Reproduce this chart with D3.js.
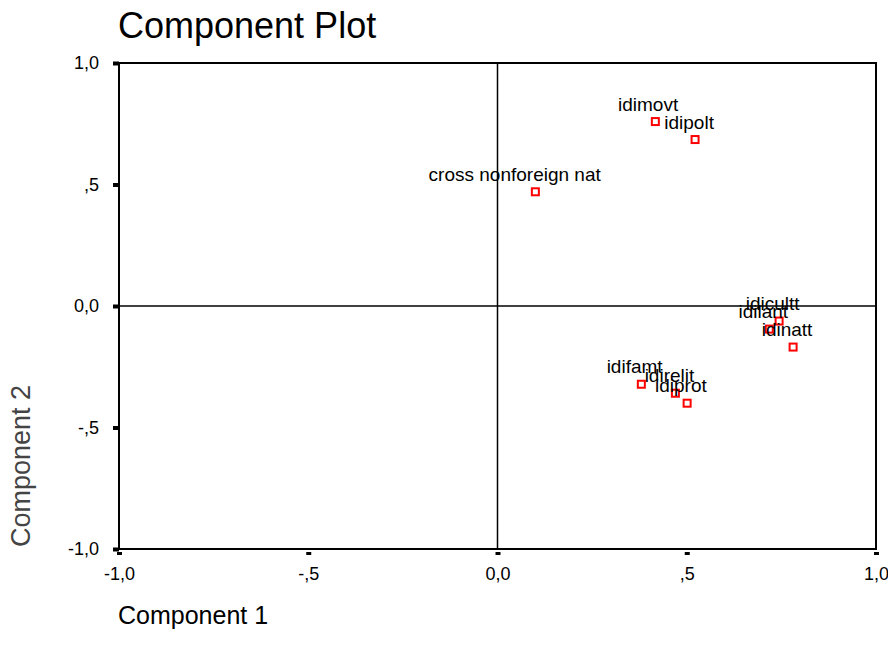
<!DOCTYPE html>
<html>
<head>
<meta charset="utf-8">
<script src="https://cdn.jsdelivr.net/npm/d3@7"></script>
<style>
  body { margin: 0; background: #fff; }
  svg { font-family: "Liberation Sans", Arial, sans-serif; }
</style>
</head>
<body>
<svg width="888" height="657"></svg>
<script>
// component loadings
var names = ["idimovt", "idipolt", "cross nonforeign nat", "idicultt", "idilant", "idinatt", "idifamt", "idirelit", "idiprot"];
var comp1 = [0.417, 0.522, 0.100, 0.744, 0.718, 0.781, 0.380, 0.470, 0.501];
var comp2 = [0.759, 0.685, 0.470, -0.062, -0.095, -0.169, -0.322, -0.359, -0.400];

var tickValues = [-1, -0.5, 0, 0.5, 1];
var tickLabels = ["-1,0", "-,5", "0,0", ",5", "1,0"];

var svg = d3.select("svg");

var x = d3.scaleLinear().domain([-1, 1]).range([119, 876]);
var y = d3.scaleLinear().domain([-1, 1]).range([549, 63]);

function fmt(d) { return tickLabels[tickValues.indexOf(d)]; }

// title
svg.append("text")
    .attr("x", 118).attr("y", 38)
    .style("font-size", "36px")
    .text("Component Plot");

// frame
svg.append("rect")
    .attr("x", x(-1)).attr("y", y(1))
    .attr("width", x(1) - x(-1)).attr("height", y(-1) - y(1))
    .attr("fill", "none").attr("stroke", "#000").attr("stroke-width", 2);

// zero lines
svg.append("line")
    .attr("x1", x(0)).attr("x2", x(0)).attr("y1", y(1)).attr("y2", y(-1))
    .attr("stroke", "#000").attr("stroke-width", 1.5);
svg.append("line")
    .attr("x1", x(-1)).attr("x2", x(1)).attr("y1", y(0)).attr("y2", y(0))
    .attr("stroke", "#000").attr("stroke-width", 1.5);

// left axis
var gy = svg.append("g")
    .attr("transform", "translate(" + x(-1) + ",0)")
    .call(d3.axisLeft(y).tickValues(tickValues).tickFormat(fmt).tickSize(6).tickPadding(14));
gy.select(".domain").remove();
gy.selectAll(".tick line").attr("stroke-width", 4);
gy.selectAll(".tick text").style("font-size", "18px").attr("fill", "#000");

// bottom axis
var gx = svg.append("g")
    .attr("transform", "translate(0," + (y(-1) + 3) + ")")
    .call(d3.axisBottom(x).tickValues(tickValues).tickFormat(fmt).tickSize(3).tickPadding(12));
gx.select(".domain").remove();
gx.selectAll(".tick line").attr("stroke-width", 5);
gx.selectAll(".tick text").style("font-size", "18px").attr("fill", "#000");

// axis titles
svg.append("text")
    .attr("x", 118).attr("y", 624)
    .style("font-size", "25px")
    .text("Component 1");

svg.append("text")
    .attr("transform", "translate(30,466) rotate(-90)")
    .attr("text-anchor", "middle")
    .style("font-size", "27px")
    .attr("fill", "#444")
    .text("Component 2");

// points
var pts = names.map(function(n, i) { return { name: n, c1: comp1[i], c2: comp2[i] }; });

var g = svg.append("g");
g.selectAll("rect.pt").data(pts).enter().append("rect")
    .attr("class", "pt")
    .attr("x", function(d) { return x(d.c1) - 3.5; })
    .attr("y", function(d) { return y(d.c2) - 3.5; })
    .attr("width", 7).attr("height", 7)
    .attr("fill", "none").attr("stroke", "#f00").attr("stroke-width", 2);

g.selectAll("text.lbl").data(pts).enter().append("text")
    .attr("class", "lbl")
    .style("font-size", "19px")
    .attr("y", function(d) { return y(d.c2) - 11; })
    .text(function(d) { return d.name; })
    .attr("x", function(d) { return x(d.c1) - 0.62 * this.getComputedTextLength(); });
</script>
</body>
</html>
